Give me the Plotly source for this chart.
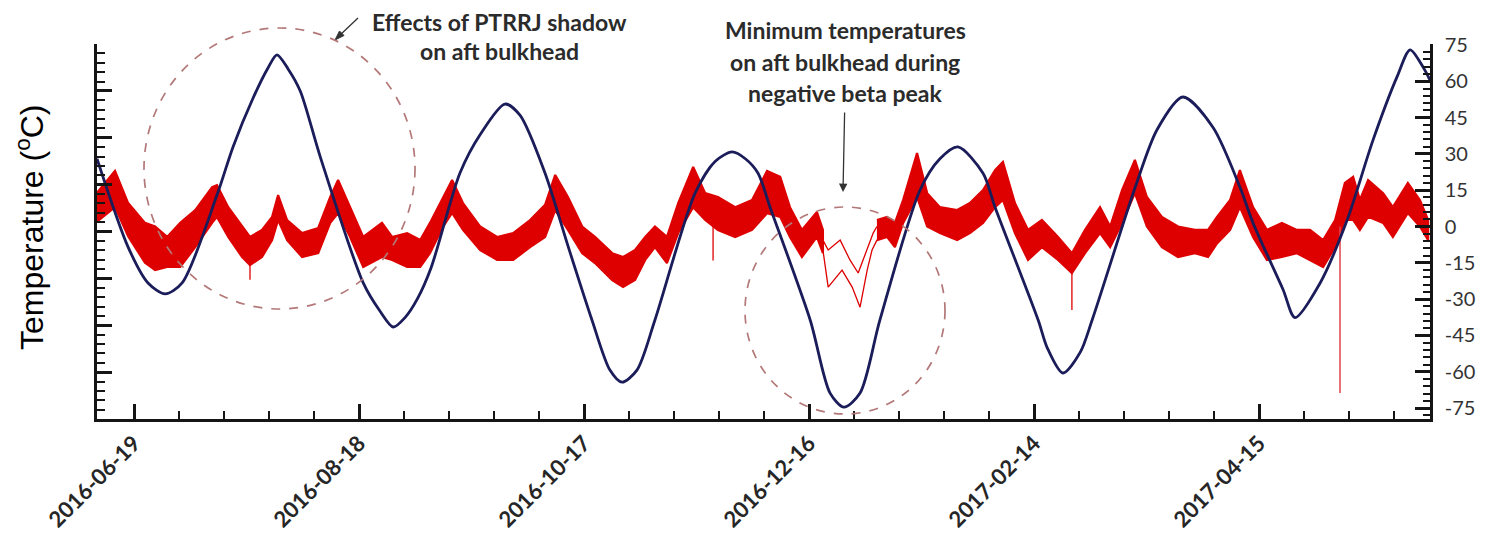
import plotly.graph_objects as go
import pandas as pd

BASE = pd.Timestamp("2016-06-19")

# ---- Beta angle (navy line), days after 2016-06-19, values on right axis ----
beta_days = [-9.9, -1.6, 3.7, 8.3, 12.8, 22.1, 26.4, 31.7, 35.7, 38.1, 41.1, 44.3, 49.6,
             61.1, 65.6, 69.1, 72.3, 75.5, 79.2, 86.9, 92.3, 98.9, 102.9, 109.6, 115.7,
             122.1, 126.9, 130.1, 134.1, 138.9, 149.6, 155.0, 159.5, 163.0, 166.4, 169.6,
             180.3, 185.6, 189.3, 193.6, 198.9, 209.6, 214.9, 219.7, 226.4, 229.6, 241.1,
             243.5, 247.7, 252.3, 255.5, 267.0, 272.8, 279.7, 287.7, 294.9, 298.4, 306.4,
             309.6, 316.3, 323.5, 330.4, 336.8, 340.3, 343.7, 345.6]
beta_vals = [28, -8.5, -23.3, -27.8, -23.3, 13, 33, 53, 65.5, 70.9, 65, 56, 29,
             -23.3, -35, -41.5, -37.5, -30, -17, 22.1, 38, 50.6, 46, 22, -8,
             -38.6, -59.3, -64.3, -59.3, -38.6, 13.8, 27, 30.8, 28, 22, 8,
             -38.6, -68.8, -74.6, -68.8, -38.6, 15.1, 28, 32.9, 22, 8, -38.6,
             -50, -60.5, -52, -38.6, 16.3, 40, 53.5, 41, 16.3, 1.5, -26,
             -37.6, -23.3, 2.7, 35.7, 61.8, 73, 66, 60.5]

# ---- Aft bulkhead temperature (red noisy band): upper / lower envelope ----
temp_days = [-9.9, -5.1, -1.6, 2.9, 5.6, 8.8, 12.3, 16.3, 20.8, 22.1, 25.1, 28.8, 30.9,
             34.1, 36.8, 38.4, 40.8, 44.8, 49.1, 52.3, 54.4, 57.6, 61.1, 66.1, 68.8,
             72.8, 76.3, 78.9, 82.4, 84.8, 87.7, 92.3, 96.8, 101.1, 105.6, 109.6, 112.3,
             115.7, 119.5, 122.9, 127.5, 130.4, 133.6, 136.3, 138.9, 142.1, 145.1, 149.1,
             152.3, 155.7, 160.3, 164.8, 168.8, 172.3, 174.9, 178.1, 182.1, 183.7,
             198.1, 200.8, 202.9, 205.1, 208.8, 211.5, 214.9, 219.5, 222.9, 226.4, 229.6,
             231.7, 234.9, 238.4, 242.1, 246.4, 250.1, 253.6, 257.6, 260.3, 263.5, 266.9,
             270.1, 274.1, 278.4, 282.9, 286.4, 288.8, 292.3, 294.9, 298.4, 302.1, 306.1,
             310.1, 313.6, 317.1, 320.3, 322.9, 325.1, 326.9, 329.1, 333.1, 335.7, 339.7,
             342.9, 345.1]
temp_upper = [14, 23, 9.7, 1.5, 0, -4.3, 1.5, 6.8, 16.3, 17.1, 8, 0, -4.3,
              -1.4, 4, 13, 2.7, -2.7, -0.6, 12.2, 19.2, 8, -4.3, 1.5, -4.3,
              -2.7, -5.6, 1.5, 12.2, 19.2, 9.7, 0, -4.3, -2.7, 2.7, 9, 21.3,
              12.2, 0, -4.3, -11, -12.6, -9.7, -4.3, 0, -4.3, 9.7, 24.6,
              13.8, 12.2, 8, 11, 23, 20.5, 8, -1.4, 6, -1.4,
              2.7, 4, 1.5, 11, 30.4, 13.8, 8, 6.8, 9.7, 15.1, 23.3,
              26.7, 9.7, -1.4, 2.7, -4.3, -11, -1.4, 8, 0, 15.1, 27.5,
              12.2, 4, 0, -1.4, -1.4, 4, 11, 23.3, 8, -1.4, 1.5,
              -1.4, -1.4, -5.6, 2.7, 18, 20.5, 11, 19.2, 13.8, 8, 18,
              11, 2.7]
temp_lower = [2, 8, -4, -15, -18, -16.7, -16.7, -8.5, 1.5, 4, -4.3, -12.6, -15.9,
              -12.6, -5.6, 2.7, -5.6, -12.6, -11, 1.5, 5.6, -4.3, -16.7, -12.6, -13.8,
              -16.7, -16.7, -11, 0, 5.6, -1.4, -9.7, -13.8, -13.8, -8.5, -4.3, 6.8,
              -1.4, -11, -15.1, -22.1, -25, -22.1, -13.8, -8.5, -15.1, -2.7, 8,
              2.7, -1.4, -4.3, -1.4, 5.5, 4, -4.3, -12.6, -4.3, -11,
              -5.6, -4.3, -8.5, 1.5, 12.2, 0, -2.7, -5.6, -2.7, 1.5, 8,
              11, -2.7, -13.8, -8.5, -13.8, -19.2, -11, -2.7, -8.5, 1.5, 13.8,
              0, -8.5, -12.6, -11, -12.6, -7, -1.4, 8, -4.3, -13.8, -12.6,
              -11, -13.8, -16.7, -8.5, 2.7, 2.7, -1.4, 4, 1.5, -4.3, 5.6,
              0, -5.6]
# days where the band splits into two thin traces (negative beta peak)
split_start, split_end = 183.7, 198.1
branch_hi_days = [183.7, 185.1, 188.3, 190.9, 193.1, 195.5, 197.1, 198.1]
branch_hi_vals = [-5.6, -9.7, -5.6, -13.8, -19.2, -9.7, -2.7, 0]
branch_lo_days = [183.7, 185.1, 188.8, 191.5, 193.6, 195.5, 196.8, 198.1]
branch_lo_vals = [-9.7, -25, -18, -25, -33.3, -18, -9.7, -5.6]

# isolated downward spikes (day, top, bottom)
spike_days = [30.9, 154.4, 250.1]
spike_top = [-10, 10, -15]
spike_bottom = [-22, -14, -34.5]
big_spike_day = 321.6
big_spike_top, big_spike_bottom = 0, -68.8

x_tick_labels = ["2016-06-19", "2016-08-18", "2016-10-17", "2016-12-16", "2017-02-14", "2017-04-15"]
right_ticks = [-75, -60, -45, -30, -15, 0, 15, 30, 45, 60, 75]


def to_date(days):
    return [BASE + pd.Timedelta(days=d) for d in days]


RED = "rgb(222,0,0)"
NAVY = "#1b1c5a"

fig = go.Figure()

# dummy (invisible) trace so the unlabeled left axis is drawn
fig.add_trace(go.Scatter(x=[BASE], y=[0], mode="markers", marker=dict(opacity=0),
                         hoverinfo="skip", showlegend=False, yaxis="y"))

segments = [
    [i for i, d in enumerate(temp_days) if d <= split_start],
    [i for i, d in enumerate(temp_days) if d >= split_end],
]
for seg in segments:
    d = [temp_days[i] for i in seg]
    up = [temp_upper[i] for i in seg]
    lo = [temp_lower[i] for i in seg]
    fig.add_trace(go.Scatter(
        x=to_date(d + d[::-1]), y=up + lo[::-1], fill="toself", fillcolor=RED,
        mode="lines", line=dict(color=RED, width=2.2), yaxis="y2",
        hoverinfo="skip", showlegend=False))

for bd, bv in [(branch_hi_days, branch_hi_vals), (branch_lo_days, branch_lo_vals)]:
    fig.add_trace(go.Scatter(x=to_date(bd), y=bv, mode="lines",
                             line=dict(color=RED, width=1.3), yaxis="y2", showlegend=False))

sx, sy = [], []
for d, t, b in zip(spike_days, spike_top, spike_bottom):
    sx += to_date([d, d]) + [None]
    sy += [t, b, None]
fig.add_trace(go.Scatter(x=sx, y=sy, mode="lines", line=dict(color=RED, width=1.3),
                         yaxis="y2", showlegend=False))
fig.add_trace(go.Scatter(x=to_date([big_spike_day, big_spike_day]),
                         y=[big_spike_top, big_spike_bottom], mode="lines",
                         line=dict(color="rgba(225,70,80,0.85)", width=1.8),
                         yaxis="y2", showlegend=False))

fig.add_trace(go.Scatter(x=to_date(beta_days), y=beta_vals, mode="lines",
                         line=dict(color=NAVY, width=2.8, shape="spline", smoothing=0.8),
                         yaxis="y2", showlegend=False))

L, R, T, B = 97, 55, 44, 115
W, H = 1485, 534
PW, PH = W - L - R, H - T - B


def px(x):
    return (x - L) / PW


def py(y):
    return (H - B - y) / PH


AX = "#151515"
fig.update_layout(
    width=W, height=H, margin=dict(l=L, r=R, t=T, b=B, autoexpand=False),
    paper_bgcolor="white", plot_bgcolor="white", showlegend=False,
    xaxis=dict(
        type="date", automargin=False,
        range=[BASE + pd.Timedelta(days=-9.9), BASE + pd.Timedelta(days=345.6)],
        tickmode="array", tickvals=x_tick_labels, ticktext=x_tick_labels,
        tickangle=-45, ticks="inside", ticklen=15, tickwidth=2.5, tickcolor=AX,
        minor=dict(tickmode="linear", tick0="2016-06-19", dtick=12 * 86400000,
                   ticks="inside", ticklen=8, tickwidth=1.5, tickcolor=AX),
        showline=True, linecolor=AX, linewidth=2.5, showgrid=False, zeroline=False,
        tickfont=dict(family="Lato", size=22, color="#262626", weight="bold"),
    ),
    yaxis=dict(
        range=[-80, 80], tickmode="linear", tick0=0, dtick=20, automargin=False,
        ticks="inside", ticklen=15, tickwidth=2.5, tickcolor=AX,
        minor=dict(dtick=4, ticks="inside", ticklen=8, tickwidth=1.5, tickcolor=AX),
        showticklabels=False, showline=True, linecolor=AX, linewidth=2.5,
        showgrid=False, zeroline=False,
    ),
    yaxis2=dict(
        range=[-79.5, 75.4], overlaying="y", side="right", anchor="x", automargin=False,
        tickmode="array", tickvals=right_ticks, ticktext=[str(v) for v in right_ticks],
        ticks="inside", ticklen=15, tickwidth=2.5, tickcolor=AX,
        minor=dict(tickmode="linear", tick0=0, dtick=3, ticks="inside", ticklen=7,
                   tickwidth=1.5, tickcolor=AX),
        showline=True, linecolor=AX, linewidth=2.5, showgrid=False, zeroline=False,
        tickfont=dict(family="Lato", size=20, color="#333333"),
        ticklabelstandoff=8,
    ),
)

ann_font = dict(family="Lato", size=23, color="#2b2b2b", weight="bold")
annotations = [
    dict(text="Temperature (<sup>o</sup>C)", x=px(30), y=py(228), textangle=-90,
         font=dict(family="Liberation Sans, Arial", size=32, color="black")),
    dict(text="Effects of PTRRJ shadow", x=px(499), y=py(22), font=ann_font),
    dict(text="on aft bulkhead", x=px(499), y=py(51), font=ann_font),
    dict(text="Minimum temperatures", x=px(845), y=py(30), font=ann_font),
    dict(text="on aft bulkhead during", x=px(845), y=py(62), font=ann_font),
]
for a in annotations:
    fig.add_annotation(xref="paper", yref="paper", showarrow=False,
                       xanchor="center", yanchor="middle", **a)

# third line of the second note carries the downward arrow
fig.add_annotation(xref="paper", yref="paper", text="negative beta peak", font=ann_font,
                   x=px(843), y=py(192), ax=2, ay=-99, showarrow=True,
                   arrowhead=2, arrowsize=1.3, arrowwidth=1.3, arrowcolor="#333333",
                   standoff=0, startstandoff=4)

# diagonal arrow toward the first circle (line + head)
ARC = "#333333"
tail, head = (358, 18), (335, 40)
fig.add_shape(type="line", xref="paper", yref="paper",
              x0=px(tail[0]), y0=py(tail[1]), x1=px(339), y1=py(36),
              line=dict(color=ARC, width=1.3))
tri = [(335, 40), (344, 35.5), (339.5, 31)]
fig.add_shape(type="path", xref="paper", yref="paper",
              path="M " + " L ".join(f"{px(a)},{py(b)}" for a, b in tri) + " Z",
              fillcolor=ARC, line=dict(color=ARC, width=1))

circle_line = dict(color="#b37878", width=1.7, dash="dash")
fig.add_shape(type="circle", xref="paper", yref="paper",
              x0=px(144), x1=px(415), y0=py(309), y1=py(28), line=circle_line)
fig.add_shape(type="circle", xref="paper", yref="paper",
              x0=px(745), x1=px(945), y0=py(414), y1=py(207), line=circle_line)

fig.write_html("out.html")
